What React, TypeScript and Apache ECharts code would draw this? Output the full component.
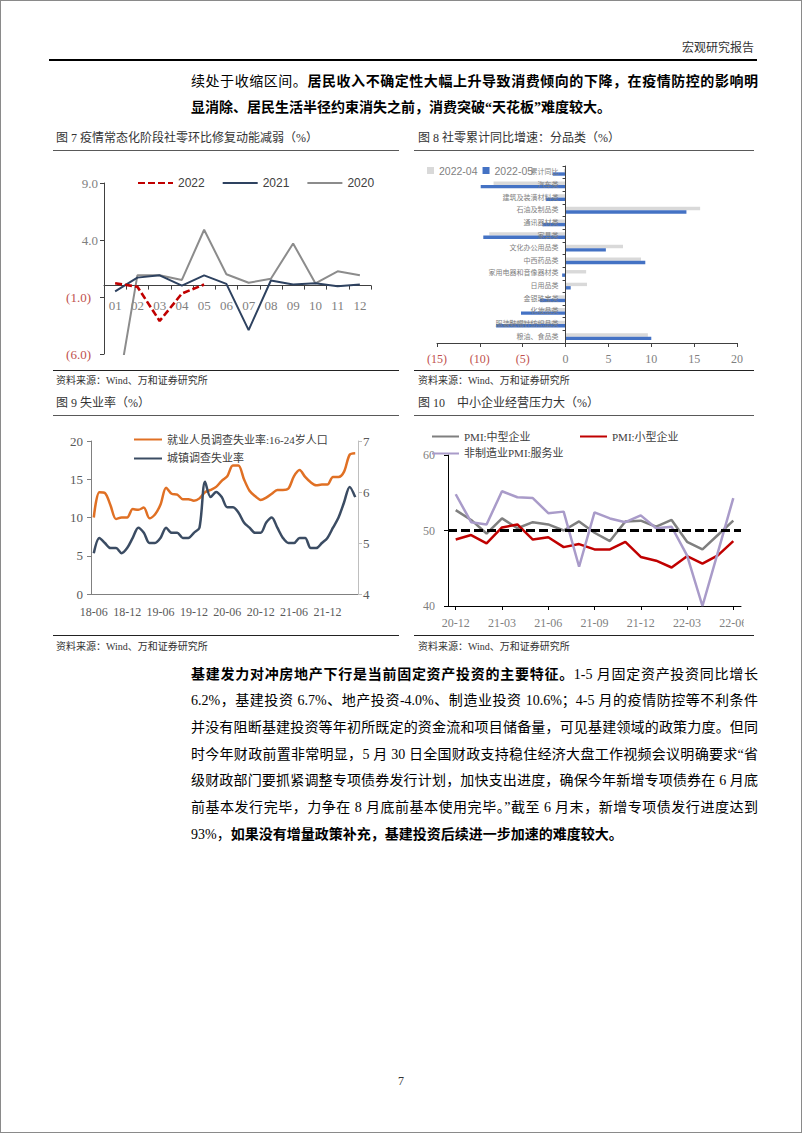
import React, { useEffect, useRef } from "react";
import * as echarts from "echarts";

const SERIF = '"Liberation Serif", "Times New Roman", serif';
const SANS = '"Liberation Sans", Arial, sans-serif';
const MIX = '"Liberation Serif", "Noto Sans CJK SC", serif';
const BODY = '"Liberation Serif", "Noto Sans CJK SC", serif';

// ---------- Figure 7 ----------
const months7 = ["01", "02", "03", "04", "05", "06", "07", "08", "09", "10", "11", "12"];
const min7 = -6;
const max7 = 9;
const ticks7 = [-6, -1, 4, 9];
const r2022 = [0.2, -0.1, -3.1, -0.7, 0.1];
const r2021 = [-0.5, 0.7, 0.9, 0.0, 0.9, 0.15, -3.9, 0.45, 0.1, 0.2, -0.05, 0.1];
const r2020 = [-10.6, 0.9, 0.9, 0.5, 4.9, 1.0, 0.25, 0.6, 3.7, 0.2, 1.25, 0.9];

// ---------- Figure 8 ----------
const cats8 = [
  "累计同比", "汽车类", "建筑及装潢材料类", "石油及制品类", "通讯器材类", "家具类", "文化办公用品类",
  "中西药品类", "家用电器和音像器材类", "日用品类", "金银珠宝类", "化妆品类", "服装鞋帽针纺织品类", "粮油、食品类",
];
const min8 = -15;
const max8 = 20;
const apr8 = [-0.2, -8.4, -1.3, 15.7, -1.5, -8.9, 6.7, 8.8, 2.4, 2.5, -1.0, -3.0, -6.9, 9.6];
const may8 = [-1.5, -9.9, -2.3, 14.1, -2.7, -9.6, 4.7, 9.3, -0.4, 0.6, -3.0, -5.2, -8.1, 10.0];

// ---------- Figure 9 ----------
const months9 = [
  "18-06", "18-07", "18-08", "18-09", "18-10", "18-11", "18-12",
  "19-01", "19-02", "19-03", "19-04", "19-05", "19-06", "19-07", "19-08", "19-09", "19-10", "19-11", "19-12",
  "20-01", "20-02", "20-03", "20-04", "20-05", "20-06", "20-07", "20-08", "20-09", "20-10", "20-11", "20-12",
  "21-01", "21-02", "21-03", "21-04", "21-05", "21-06", "21-07", "21-08", "21-09", "21-10", "21-11", "21-12",
  "22-01", "22-02", "22-03", "22-04", "22-05",
];
const youth9 = [
  10.0, 13.3, 13.2, 11.6, 9.8, 10.0, 10.0,
  11.1, 11.0, 11.3, 9.9, 10.4, 11.7, 13.9, 13.1, 13.0, 12.4, 12.4, 12.2,
  12.5, 13.3, 13.6, 14.0, 14.8, 15.4, 16.8, 16.8, 15.0, 13.5, 12.8, 12.3,
  12.6, 13.1, 13.6, 13.6, 13.8, 15.4, 16.2, 15.3, 14.6, 14.2, 14.3, 14.3,
  15.3, 15.3, 16.0, 18.2, 18.4,
];
const urban9 = [
  4.8, 5.1, 5.0, 4.9, 4.9, 4.8, 4.9,
  5.1, 5.3, 5.2, 5.0, 5.0, 5.1, 5.3, 5.2, 5.2, 5.1, 5.1, 5.2,
  5.3, 6.2, 5.9, 6.0, 5.9, 5.7, 5.7, 5.6, 5.4, 5.3, 5.2, 5.2,
  5.4, 5.5, 5.3, 5.1, 5.0, 5.0, 5.1, 5.1, 4.9, 4.9, 5.0, 5.1,
  5.3, 5.5, 5.8, 6.1, 5.9,
];

// ---------- Figure 10 ----------
const months10 = [
  "20-12", "21-01", "21-02", "21-03", "21-04", "21-05", "21-06", "21-07", "21-08", "21-09",
  "21-10", "21-11", "21-12", "22-01", "22-02", "22-03", "22-04", "22-05", "22-06",
];
const mid10 = [52.7, 51.4, 49.6, 51.6, 50.3, 51.1, 50.8, 50.0, 51.2, 49.7, 48.6, 51.2, 51.3, 50.5, 51.4, 48.5, 47.5, 49.4, 51.3];
const small10 = [48.8, 49.4, 48.3, 50.4, 50.8, 48.8, 49.1, 47.8, 48.2, 47.5, 47.5, 48.5, 46.5, 46.0, 45.1, 46.6, 45.6, 46.7, 48.6];
const serv10 = [54.8, 51.1, 50.8, 55.2, 54.4, 54.3, 52.3, 52.5, 45.2, 52.4, 51.6, 51.1, 52.0, 50.3, 50.5, 46.7, 40.0, 47.1, 54.3];
const threshold10 = 50;

const RED = "#C0504D";

function Chart({ option, left, top, width, height }: any) {
  const ref = useRef<HTMLDivElement>(null);
  useEffect(() => {
    const c = echarts.init(ref.current as HTMLDivElement, undefined, { renderer: "svg" });
    c.setOption(option);
    return () => c.dispose();
  }, []);
  return (
    <div style={{ position: "absolute", left, top, width, height, overflow: "hidden" }}>
      <div ref={ref} style={{ width, height }} />
    </div>
  );
}

const H7 = 218;
const grid7 = { left: 51, right: 28, top: 32, bottom: 15 };
const gridH7 = H7 - grid7.top - grid7.bottom;
const zeroOffset7 = -(gridH7 * (0 - min7)) / (max7 - min7);

const W8 = 340;
const grid8 = { left: 23, right: 17, top: 15, bottom: 26 };
const gridW8 = W8 - grid8.left - grid8.right;
const zeroOffset8 = -(gridW8 * (0 - min8)) / (max8 - min8);

const noSym = { opacity: 0 };

const opt7: any = {
  animation: false,
  grid: { ...grid7, outerBoundsMode: "none", containLabel: false },
  legend: {
    data: ["2022", "2021", "2020"], left: 84, top: 26, padding: 0,
    itemWidth: 35, itemHeight: 10, itemGap: 17, itemStyle: noSym,
    textStyle: { fontFamily: SANS, fontSize: 12, color: "#404040" },
  },
  xAxis: {
    type: "category", data: months7, boundaryGap: true, position: "bottom", offset: zeroOffset7,
    axisLine: { onZero: false, lineStyle: { color: "#404040", width: 1 } },
    axisTick: { show: true, length: 4, lineStyle: { color: "#404040" } },
    axisLabel: { margin: 13, fontFamily: SERIF, fontSize: 13, color: "#7f7f7f" },
  },
  yAxis: {
    type: "value", min: min7, max: max7, splitLine: { show: false },
    axisLine: { show: true, onZero: false, lineStyle: { color: "#404040" } },
    axisTick: { show: true, length: 4, customValues: ticks7, lineStyle: { color: "#404040" } },
    axisLabel: {
      customValues: ticks7, margin: 6,
      formatter: (v: number) => {
        const r = Math.round(v * 10) / 10;
        return r < 0 ? `{n|(${Math.abs(r).toFixed(1)})}` : `{p|${r.toFixed(1)}}`;
      },
      rich: {
        n: { color: RED, fontFamily: SERIF, fontSize: 13, padding: [0, 7, 0, 0] },
        p: { color: "#7f7f7f", fontFamily: SERIF, fontSize: 13 },
      },
    },
  },
  series: [
    { name: "2022", type: "line", data: r2022, symbol: "none", z: 5, lineStyle: { color: "#C00000", width: 2.6, type: [7, 3] }, itemStyle: { color: "#C00000" } },
    { name: "2021", type: "line", data: r2021, symbol: "none", z: 4, lineStyle: { color: "#2E4260", width: 2 }, itemStyle: { color: "#2E4260" } },
    { name: "2020", type: "line", data: r2020, symbol: "none", z: 3, lineStyle: { color: "#8C8C8C", width: 2 }, itemStyle: { color: "#8C8C8C" } },
  ],
};

const opt8: any = {
  animation: false,
  grid: { ...grid8, outerBoundsMode: "none", containLabel: false },
  legend: {
    data: ["2022-04", "2022-05"], left: 13, top: 14, padding: 0, icon: "rect",
    itemWidth: 7, itemHeight: 7, itemGap: 5,
    textStyle: { fontFamily: SANS, fontSize: 10.5, color: "#7f7f7f" },
  },
  xAxis: {
    type: "value", min: min8, max: max8, interval: 5, position: "bottom", splitLine: { show: false },
    axisLine: { show: true, onZero: false, lineStyle: { color: "#404040" } },
    axisTick: { show: true, length: 4, lineStyle: { color: "#404040" } },
    axisLabel: {
      margin: 10,
      formatter: (v: number) => (v < 0 ? `{n|(${Math.abs(v)})}` : `{p|${v}}`),
      rich: {
        n: { color: RED, fontFamily: SERIF, fontSize: 12 },
        p: { color: "#7f7f7f", fontFamily: SERIF, fontSize: 12 },
      },
    },
  },
  yAxis: {
    type: "category", data: cats8, inverse: true, z: 5, position: "left", offset: zeroOffset8,
    axisLine: { onZero: false, lineStyle: { color: "#404040" } },
    axisTick: { show: true, length: 3, lineStyle: { color: "#404040" } },
    axisLabel: { margin: 7, fontSize: 7, color: "#7f7f7f", fontFamily: MIX },
  },
  series: [
    { name: "2022-04", type: "bar", data: apr8, barWidth: 3.4, barGap: "0%", itemStyle: { color: "#D9D9D9" } },
    { name: "2022-05", type: "bar", data: may8, barWidth: 3.4, barGap: "0%", itemStyle: { color: "#4472C4" } },
  ],
};

const opt9: any = {
  animation: false,
  grid: { left: 38, right: 41, top: 24, bottom: 40, outerBoundsMode: "none", containLabel: false },
  legend: {
    orient: "vertical", left: 80, top: 17, padding: 0,
    itemWidth: 28, itemHeight: 12, itemGap: 8, itemStyle: noSym,
    textStyle: { fontFamily: MIX, fontSize: 11, color: "#404040" },
  },
  xAxis: {
    type: "category", data: months9, boundaryGap: true,
    axisLine: { lineStyle: { color: "#808080" } },
    axisTick: { show: false },
    axisLabel: { interval: 5, margin: 12, fontFamily: SERIF, fontSize: 12, color: "#595959" },
  },
  yAxis: [
    {
      type: "value", min: 0, max: 20, interval: 5, splitLine: { show: false },
      axisLine: { show: true, lineStyle: { color: "#808080" } },
      axisTick: { show: true, length: 4, lineStyle: { color: "#808080" } },
      axisLabel: { margin: 8, fontFamily: SERIF, fontSize: 13, color: "#595959" },
    },
    {
      type: "value", min: 4, max: 7, interval: 1, position: "right", splitLine: { show: false },
      axisLine: { show: true, lineStyle: { color: "#BFBFBF" } },
      axisTick: { show: true, length: 4, lineStyle: { color: "#BFBFBF" } },
      axisLabel: { margin: 5, fontFamily: SERIF, fontSize: 13, color: "#595959" },
    },
  ],
  series: [
    { name: "就业人员调查失业率:16-24岁人口", type: "line", data: youth9, smooth: 0.3, symbol: "none", lineStyle: { color: "#E07024", width: 2.5 }, itemStyle: { color: "#E07024" } },
    { name: "城镇调查失业率", type: "line", yAxisIndex: 1, data: urban9, smooth: 0.3, symbol: "none", lineStyle: { color: "#3B4C63", width: 2.5 }, itemStyle: { color: "#3B4C63" } },
  ],
};

const opt10: any = {
  animation: false,
  grid: { left: 34, right: 3, top: 38, bottom: 28, outerBoundsMode: "none", containLabel: false },
  legend: [
    {
      data: ["PMI:中型企业", "非制造业PMI:服务业"], orient: "vertical", left: 17, top: 14, padding: 0,
      itemWidth: 27, itemHeight: 12, itemGap: 6, itemStyle: noSym,
      textStyle: { fontFamily: MIX, fontSize: 11, color: "#404040" },
    },
    {
      data: ["PMI:小型企业"], orient: "vertical", left: 165, top: 14, padding: 0,
      itemWidth: 27, itemHeight: 12, itemStyle: noSym,
      textStyle: { fontFamily: MIX, fontSize: 11, color: "#404040" },
    },
  ],
  xAxis: {
    type: "category", data: months10, boundaryGap: true,
    axisLine: { lineStyle: { color: "#000000" } },
    axisTick: { show: true, length: 4, interval: 2, alignWithLabel: true, lineStyle: { color: "#000" } },
    axisLabel: { interval: 2, margin: 11, fontFamily: SERIF, fontSize: 12, color: "#7f7f7f" },
  },
  yAxis: {
    type: "value", min: 40, max: 60, interval: 10, splitLine: { show: false },
    axisLine: { show: true, lineStyle: { color: "#000000" } },
    axisTick: { show: true, length: 4, lineStyle: { color: "#000" } },
    axisLabel: { margin: 13, fontFamily: SERIF, fontSize: 12, color: "#7f7f7f" },
  },
  series: [
    { name: "PMI:中型企业", type: "line", data: mid10, symbol: "none", lineStyle: { color: "#7F7F7F", width: 2.5 }, itemStyle: { color: "#7F7F7F" } },
    { name: "PMI:小型企业", type: "line", data: small10, symbol: "none", lineStyle: { color: "#C00000", width: 2.5 }, itemStyle: { color: "#C00000" } },
    {
      name: "非制造业PMI:服务业", type: "line", data: serv10, symbol: "none",
      lineStyle: { color: "#A99BC9", width: 2.5 }, itemStyle: { color: "#A99BC9" },
      markLine: {
        silent: true, symbol: ["none", "none"], label: { show: false },
        lineStyle: { color: "#000", width: 3, type: [9, 4] },
        data: [{ yAxis: threshold10 }],
      },
    },
  ],
};

type Seg = { t: string; b?: boolean };
const para1: Seg[][] = [
  [{ t: "续处于收缩区间。" }, { t: "居民收入不确定性大幅上升导致消费倾向的下降，在疫情防控的影响明", b: true }],
  [{ t: "显消除、居民生活半径约束消失之前，消费突破“天花板”难度较大。", b: true }],
];
const para2: Seg[][] = [
  [{ t: "基建发力对冲房地产下行是当前固定资产投资的主要特征。", b: true }, { t: "1-5 月固定资产投资同比增长" }],
  [{ t: "6.2%，基建投资 6.7%、地产投资-4.0%、制造业投资 10.6%；4-5 月的疫情防控等不利条件" }],
  [{ t: "并没有阻断基建投资等年初所既定的资金流和项目储备量，可见基建领域的政策力度。但同" }],
  [{ t: "时今年财政前置非常明显，5 月 30 日全国财政支持稳住经济大盘工作视频会议明确要求“省" }],
  [{ t: "级财政部门要抓紧调整专项债券发行计划，加快支出进度，确保今年新增专项债券在 6 月底" }],
  [{ t: "前基本发行完毕，力争在 8 月底前基本使用完毕。”截至 6 月末，新增专项债发行进度达到" }],
  [{ t: "93%，" }, { t: "如果没有增量政策补充，基建投资后续进一步加速的难度较大。", b: true }],
];

function Para({ lines, top }: { lines: Seg[][]; top: number }) {
  return (
    <>
      {lines.map((ln, i) => (
        <div
          key={i}
          style={{
            position: "absolute", left: 190, top: top + i * 26.7 - 13.5, width: 567, height: 27,
            fontSize: 14, lineHeight: "27px", color: "#000", fontFamily: BODY,
            textAlign: "justify", textAlignLast: i === lines.length - 1 ? "left" : "justify",
            textJustify: "inter-character",
          } as any}
        >
          {ln.map((s, j) => (
            <span key={j} style={{ fontWeight: s.b ? 700 : 400 }}>{s.t}</span>
          ))}
        </div>
      ))}
    </>
  );
}

function T({ x, y, size, children, color, right }: any) {
  const st: any = {
    position: "absolute", top: y - size / 2 - 2, fontSize: size, lineHeight: `${size + 4}px`,
    whiteSpace: "nowrap", color: color || "#333", fontFamily: BODY,
  };
  if (right !== undefined) st.right = right; else st.left = x;
  return <div style={st}>{children}</div>;
}

function HL({ x, y, w, c, h }: any) {
  return <div style={{ position: "absolute", left: x, top: y, width: w, height: h || 1, background: c || "#404040" }} />;
}

export default function App() {
  return (
    <div
      style={{
        position: "absolute", left: 0, top: 0, width: 802, height: 1133, background: "#fff",
        border: "1px solid #8a8a8a", boxSizing: "border-box", overflow: "hidden",
      }}
    >
      <T right={47} y={47} size={12} color="#333">宏观研究报告</T>
      <HL x={48} y={58} w={708} h={1.5} c="#000" />
      <Para lines={para1} top={80} />

      <T x={55} y={137} size={12} color="#333">图 7 疫情常态化阶段社零环比修复动能减弱（%）</T>
      <T x={417} y={137} size={12} color="#333">图 8 社零累计同比增速：分品类（%）</T>
      <HL x={52} y={149} w={346} c="#595959" />
      <HL x={413} y={149} w={340} c="#595959" />
      <Chart option={opt7} left={52} top={150} width={346} height={H7} />
      <Chart option={opt8} left={413} top={150} width={W8} height={218} />
      <HL x={52} y={369} w={346} c="#222" />
      <HL x={413} y={369} w={340} c="#222" />
      <T x={55} y={380} size={10} color="#333">资料来源：Wind、万和证券研究所</T>
      <T x={417} y={380} size={10} color="#333">资料来源：Wind、万和证券研究所</T>

      <T x={55} y={402} size={12} color="#333">图 9 失业率（%）</T>
      <T x={417} y={402} size={12} color="#333">图 10　中小企业经营压力大（%）</T>
      <HL x={52} y={414} w={346} c="#595959" />
      <HL x={413} y={414} w={340} c="#595959" />
      <Chart option={opt9} left={52} top={416} width={346} height={217} />
      <Chart option={opt10} left={413} top={416} width={330} height={217} />
      <HL x={52} y={634} w={346} c="#222" />
      <HL x={413} y={634} w={340} c="#222" />
      <T x={55} y={646} size={10} color="#333">资料来源：Wind、万和证券研究所</T>
      <T x={417} y={646} size={10} color="#333">资料来源：Wind、万和证券研究所</T>

      <Para lines={para2} top={673} />

      <T x={397} y={1080} size={12} color="#333">7</T>
    </div>
  );
}
